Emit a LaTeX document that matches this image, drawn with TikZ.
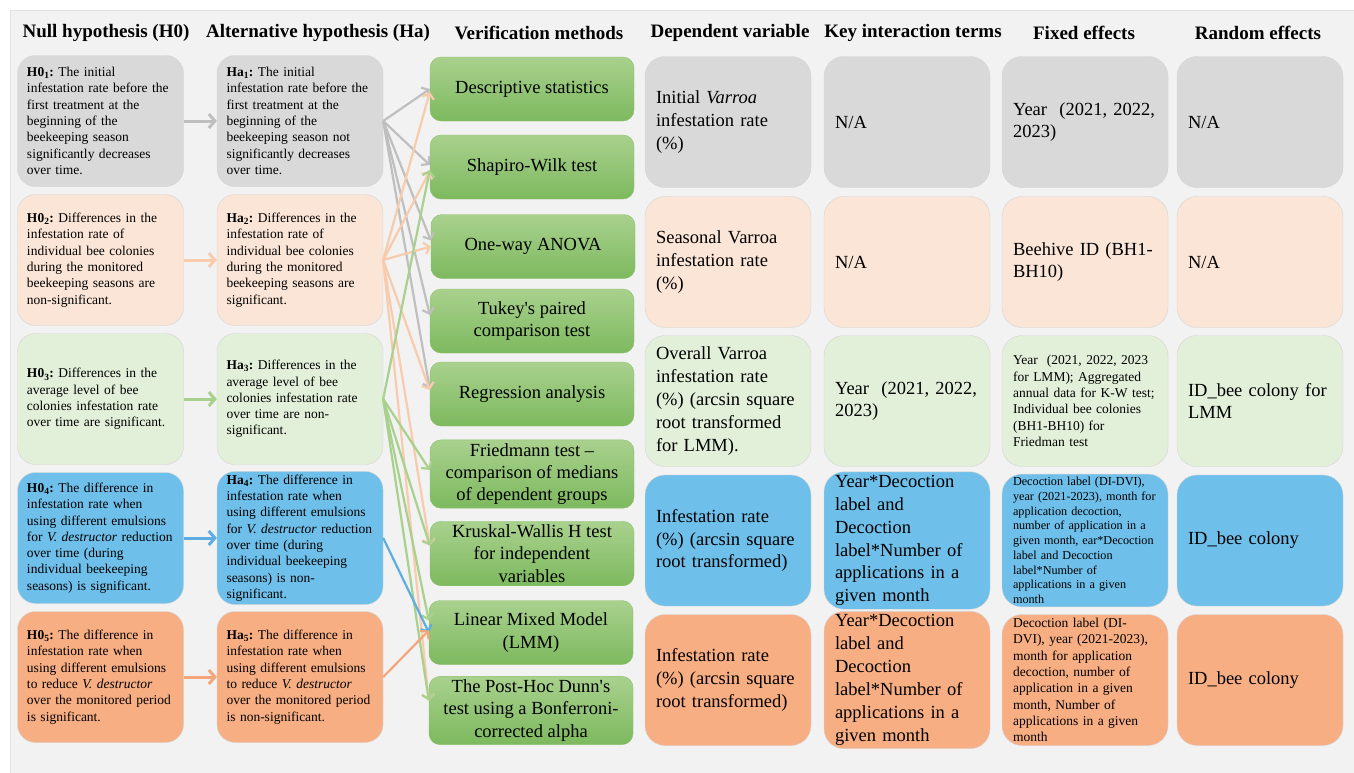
\documentclass[tikz,border=0pt]{standalone}
\usepackage{fontspec}
\setmainfont{Liberation Serif}
\usetikzlibrary{arrows.meta}
\definecolor{cpanel}{HTML}{F2F2F2}
\definecolor{cpanelline}{HTML}{E2E2E2}
\definecolor{cgray}{HTML}{D9D9D9}
\definecolor{cpink}{HTML}{FBE5D6}
\definecolor{clgreen}{HTML}{E2F0D9}
\definecolor{cblue}{HTML}{6EBFEA}
\definecolor{corange}{HTML}{F8AE83}
\definecolor{vtop}{HTML}{A9D18E}
\definecolor{vbot}{HTML}{7DB95E}
\definecolor{vline}{HTML}{8CC26C}
\definecolor{agray}{HTML}{BFBFBF}
\definecolor{apink}{HTML}{F8CBAD}
\definecolor{agreen}{HTML}{A9D18E}
\definecolor{ablue}{HTML}{5DADE2}
\definecolor{aorange}{HTML}{F4A679}
\tikzstyle{head} = [font=\bfseries\fontsize{19}{22}\selectfont, inner sep=0pt]
\tikzstyle{hyp} = [rectangle, rounded corners=18pt, minimum height=131pt, text width=147pt, inner xsep=9.5pt, align=left, draw=black!17, font=\frenchspacing\fontsize{13.5}{16.3}\selectfont]
\tikzstyle{method} = [rectangle, rounded corners=11pt, minimum width=204pt, minimum height=64pt, align=center, draw=vline, top color=vtop, bottom color=vbot, font=\fontsize{18.5}{22.4}\selectfont]
\tikzstyle{cell} = [rectangle, rounded corners=20pt, minimum height=131pt, text width=144pt, inner xsep=11pt, align=left, draw=black!17, font=\frenchspacing\fontsize{18.5}{22.9}\selectfont]
\tikzstyle{small} = [font=\frenchspacing\fontsize{13.5}{16.3}\selectfont]
\tikzstyle{tiny} = [font=\frenchspacing\fontsize{12.2}{14.7}\selectfont]
\tikzstyle{link} = [line width=3pt, -{Straight Barb[length=6pt,width=14pt]}]
\tikzstyle{arrow} = [line width=2.2pt, -{Straight Barb[length=5pt,width=12pt]}]

\begin{document}
\begin{tikzpicture}[x=1pt,y=-1pt]
\useasboundingbox (0,0) rectangle (1354,772);
\fill [cpanel, draw=cpanelline] (10,10) rectangle (1356,774);

% column heads
\node (hdNull) [head] at (106,33) {Null hypothesis (H0)};
\node (hdAlt) [head] at (318,33) {Alternative hypothesis (Ha)};
\node (hdVer) [head] at (539,33) {Verification methods};
\node (hdDep) [head] at (730,33) {Dependent variable};
\node (hdKey) [head] at (913,33) {Key interaction terms};
\node (hdFix) [head] at (1084,33) {Fixed effects};
\node (hdRan) [head] at (1258,33) {Random effects};

% null hypotheses
\node (h01) [hyp, fill=cgray] at (100.5,121) {\textbf{H0\textsubscript{1}:} The initial\\infestation rate before the\\first treatment at the\\beginning of the\\beekeeping season\\significantly decreases\\over time.};
\node (h02) [hyp, fill=cpink] at (100.5,260) {\textbf{H0\textsubscript{2}:} Differences in the\\infestation rate of\\individual bee colonies\\during the monitored\\beekeeping seasons are\\non-significant.};
\node (h03) [hyp, fill=clgreen] at (100.5,399) {\textbf{H0\textsubscript{3}:} Differences in the\\average level of bee\\colonies infestation rate\\over time are significant.};
\node (h04) [hyp, fill=cblue] at (100.5,538) {\textbf{H0\textsubscript{4}:} The difference in\\infestation rate when\\using different emulsions\\for \textit{V. destructor} reduction\\over time (during\\individual beekeeping\\seasons) is significant.};
\node (h05) [hyp, fill=corange] at (100.5,677) {\textbf{H0\textsubscript{5}:} The difference in\\infestation rate when\\using different emulsions\\to reduce \textit{V. destructor}\\over the monitored period\\is significant.};

% alternative hypotheses
\node (ha1) [hyp, fill=cgray] at (300,121) {\textbf{Ha\textsubscript{1}:} The initial\\infestation rate before the\\first treatment at the\\beginning of the\\beekeeping season not\\significantly decreases\\over time.};
\node (ha2) [hyp, fill=cpink] at (300,260) {\textbf{Ha\textsubscript{2}:} Differences in the\\infestation rate of\\individual bee colonies\\during the monitored\\beekeeping seasons are\\significant.};
\node (ha3) [hyp, fill=clgreen] at (300,399) {\textbf{Ha\textsubscript{3}:} Differences in the\\average level of bee\\colonies infestation rate\\over time are non-\\significant.};
\node (ha4) [hyp, fill=cblue] at (300,538) {\textbf{Ha\textsubscript{4}:} The difference in\\infestation rate when\\using different emulsions\\for \textit{V. destructor} reduction\\over time (during\\individual beekeeping\\seasons) is non-\\significant.};
\node (ha5) [hyp, fill=corange] at (300,677) {\textbf{Ha\textsubscript{5}:} The difference in\\infestation rate when\\using different emulsions\\to reduce \textit{V. destructor}\\over the monitored period\\is non-significant.};

% verification methods
\node (desc) [method] at (532,89) {Descriptive statistics};
\node (shapiro) [method] at (532,167) {Shapiro-Wilk test};
\node (anova) [method] at (533,246.5) {One-way ANOVA};
\node (tukey) [method] at (532,321) {Tukey\textquotesingle s paired\\comparison test};
\node (regr) [method] at (532,394) {Regression analysis};
\node (friedman) [method] at (532,474) {Friedmann test --\\comparison of medians\\of dependent groups};
\node (kruskal) [method] at (532,553.5) {Kruskal-Wallis H test\\for independent\\variables};
\node (lmm) [method] at (531,632.5) {Linear Mixed Model\\(LMM)};
\node (dunn) [method] at (531,710.5) {The Post-Hoc Dunn\textquotesingle s\\test using a Bonferroni-\\corrected alpha};

% dependent variable
\node (dep1) [cell, fill=cgray] at (728,122) {Initial \textit{Varroa}\\infestation rate\\(\%)};
\node (dep2) [cell, fill=cpink] at (728,262) {Seasonal Varroa\\infestation rate\\(\%)};
\node (dep3) [cell, fill=clgreen] at (728,401) {Overall Varroa\\infestation rate\\(\%) (arcsin square\\root transformed\\for LMM).};
\node (dep4) [cell, fill=cblue] at (728,540.5) {Infestation rate\\(\%) (arcsin square\\root transformed)};
\node (dep5) [cell, fill=corange] at (728,680) {Infestation rate\\(\%) (arcsin square\\root transformed)};

% key interaction terms
\node (key1) [cell, fill=cgray] at (907,122) {N/A};
\node (key2) [cell, fill=cpink] at (907,262) {N/A};
\node (key3) [cell, fill=clgreen] at (907,401) {Year\ \ (2021, 2022,\\2023)};
\node (key4) [cell, fill=cblue] at (907,540.5) {Year*Decoction\\label and\\Decoction\\label*Number of\\applications in a\\given month};
\node (key5) [cell, fill=corange] at (907,680) {Year*Decoction\\label and\\Decoction\\label*Number of\\applications in a\\given month};

% fixed effects
\node (fix1) [cell, fill=cgray] at (1085,122) {Year\ \ (2021, 2022,\\2023)};
\node (fix2) [cell, fill=cpink] at (1085,262) {Beehive ID (BH1-\\BH10)};
\node (fix3) [cell, small, fill=clgreen] at (1085,401) {Year\ \ (2021, 2022, 2023\\for LMM); Aggregated\\annual data for K-W test;\\Individual bee colonies\\(BH1-BH10) for\\Friedman test};
\node (fix4) [cell, tiny, fill=cblue] at (1085,540.5) {Decoction label (DI-DVI),\\year (2021-2023), month for\\application decoction,\\number of application in a\\given month, ear*Decoction\\label and Decoction\\label*Number of\\applications in a given\\month};
\node (fix5) [cell, small, fill=corange] at (1085,680) {Decoction label (DI-\\DVI), year (2021-2023),\\month for application\\decoction, number of\\application in a given\\month, Number of\\applications in a given\\month};

% random effects
\node (ran1) [cell, fill=cgray] at (1260,122) {N/A};
\node (ran2) [cell, fill=cpink] at (1260,262) {N/A};
\node (ran3) [cell, fill=clgreen] at (1260,401) {ID\_bee colony for\\LMM};
\node (ran4) [cell, fill=cblue] at (1260,540.5) {ID\_bee colony};
\node (ran5) [cell, fill=corange] at (1260,680) {ID\_bee colony};

% H0 -> Ha
\draw [link, agray] (h01) -- (ha1);
\draw [link, apink] (h02) -- (ha2);
\draw [link, agreen] (h03) -- (ha3);
\draw [link, ablue] (h04) -- (ha4);
\draw [link, aorange] (h05) -- (ha5);

% Ha -> methods
\draw [arrow, agray] (ha1.east) -- (desc.west);
\draw [arrow, agray] (ha1.east) -- ([yshift=2pt]shapiro.west);
\draw [arrow, agray] (ha1.east) -- ([yshift=6pt]anova.west);
\draw [arrow, agray] (ha1.east) -- ([yshift=6pt]tukey.west);
\draw [arrow, agray] (ha1.east) -- ([yshift=5pt]regr.west);
\draw [arrow, apink] (ha2.east) -- ([yshift=-3pt]desc.west);
\draw [arrow, apink] (ha2.east) -- ([yshift=-4pt]shapiro.west);
\draw [arrow, apink] (ha2.east) -- (anova.west);
\draw [arrow, apink] (ha2.east) -- ([yshift=4pt]regr.west);
\draw [arrow, apink] (ha2.east) -- ([yshift=8pt]kruskal.west);
\draw [arrow, apink] (ha2.east) -- ([yshift=10pt]dunn.west);
\draw [arrow, agreen] (ha3.east) -- ([yshift=-3pt]shapiro.west);
\draw [arrow, agreen] (ha3.east) -- ([yshift=4pt]friedman.west);
\draw [arrow, agreen] (ha3.east) -- ([yshift=8pt]kruskal.west);
\draw [arrow, agreen] (ha3.east) -- ([yshift=12pt]lmm.west);
\draw [arrow, agreen] (ha3.east) -- ([yshift=10pt]dunn.west);
\draw [arrow, ablue] (ha4.east) -- (lmm.west);
\draw [arrow, aorange] (ha5.east) -- ([yshift=2pt]lmm.west);
\end{tikzpicture}
\end{document}
